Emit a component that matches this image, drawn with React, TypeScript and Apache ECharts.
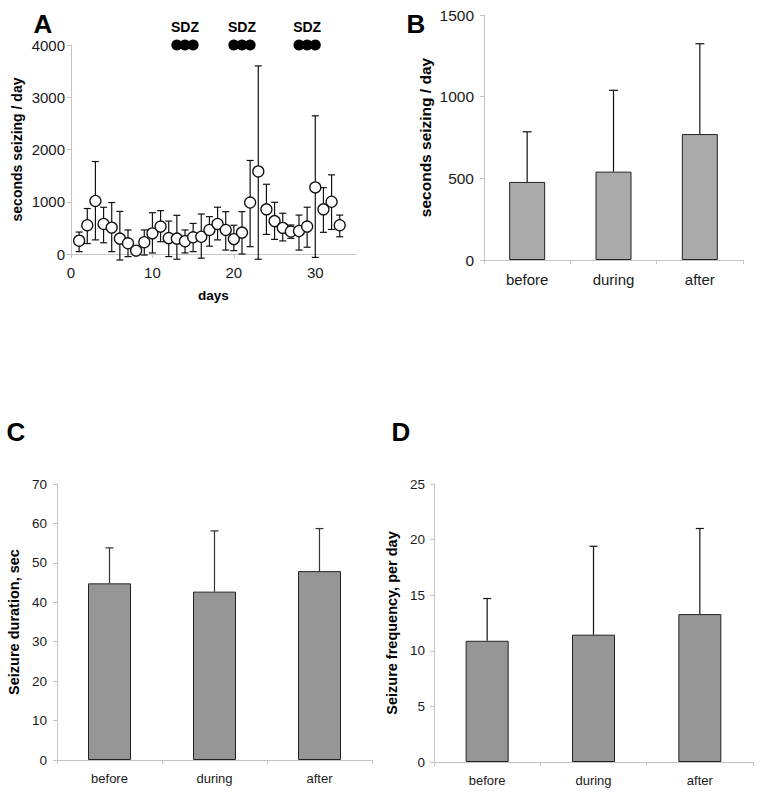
import React, { useEffect, useRef } from "react";
import * as echarts from "echarts";

// Panel A: daily seconds seizing (mean with error range)
const aDays = [1, 2, 3, 4, 5, 6, 7, 8, 9, 10, 11, 12, 13, 14, 15, 16, 17, 18, 19, 20, 21, 22, 23, 24, 25, 26, 27, 28, 29, 30, 31, 32, 33];
const aMean = [255, 550, 1015, 575, 505, 295, 205, 65, 225, 395, 525, 305, 295, 245, 320, 330, 460, 575, 460, 285, 410, 985, 1580, 855, 630, 500, 430, 440, 525, 1275, 855, 1000, 550];
const aLow = [45, 200, 270, 215, 45, -115, -50, 10, -20, 20, 235, -50, -100, 20, 45, -80, 150, 270, 75, 65, 0, 140, -100, 375, 280, 250, 300, 75, 130, -65, 415, 470, 330];
const aHigh = [420, 870, 1770, 895, 985, 815, 460, 120, 460, 790, 830, 630, 740, 460, 585, 765, 715, 895, 810, 550, 810, 1790, 3600, 1335, 990, 780, 555, 745, 895, 2645, 1270, 1515, 745];
const sdzDays = [13, 14, 15, 20, 21, 22, 28, 29, 30];
const sdzLabelDays = [14, 21, 29];
const sdzLevel = 4000;

// Panels B-D
const phases = ["before", "during", "after"];
const bMean = [478, 541, 771];
const bUpper = [785, 1039, 1324];
const cMean = [44.8, 42.7, 47.9];
const cUpper = [53.8, 58.1, 58.7];
const dMean = [10.9, 11.45, 13.3];
const dUpper = [14.7, 19.4, 21.0];

const FONT = "Liberation Sans, Arial, Helvetica, sans-serif";
const AXIS_GRAY = "#c4c4c4";
const plain = (v: number) => String(v);

function errRender(capHalf: number, color: string, lw: number, lowerCap: boolean) {
  return (params: any, api: any) => {
    const x = api.value(0);
    const lo = api.value(1);
    const hi = api.value(2);
    const pLo = api.coord([x, lo]);
    const pHi = api.coord([x, hi]);
    const style = { stroke: color, lineWidth: lw, fill: "none" };
    const children: any[] = [
      { type: "line", shape: { x1: pLo[0], y1: pLo[1], x2: pHi[0], y2: pHi[1] }, style },
      { type: "line", shape: { x1: pHi[0] - capHalf, y1: pHi[1], x2: pHi[0] + capHalf, y2: pHi[1] }, style },
    ];
    if (lowerCap) {
      children.push({ type: "line", shape: { x1: pLo[0] - capHalf, y1: pLo[1], x2: pLo[0] + capHalf, y2: pLo[1] }, style });
    }
    return { type: "group", children };
  };
}

function catXAxis(gridIndex: number, fontSize: number) {
  return {
    type: "category",
    gridIndex,
    data: phases,
    boundaryGap: true,
    axisLine: { show: true, lineStyle: { color: AXIS_GRAY, width: 1 } },
    axisTick: { show: true, length: 4, lineStyle: { color: AXIS_GRAY } },
    axisLabel: { color: "#1a1a1a", fontSize, fontFamily: FONT, margin: 12 },
    splitLine: { show: false },
  };
}

function valYAxis(gridIndex: number, max: number, interval: number, name: string, nameSize: number, nameGap: number, labelSize: number, labelMargin: number) {
  return {
    type: "value",
    gridIndex,
    min: 0,
    max,
    interval,
    name,
    nameLocation: "middle",
    nameGap,
    nameTextStyle: { fontSize: nameSize, fontWeight: "bold", color: "#000", fontFamily: FONT },
    axisLine: { show: true, lineStyle: { color: AXIS_GRAY, width: 1 } },
    axisTick: { show: true, length: 4, lineStyle: { color: AXIS_GRAY } },
    axisLabel: { color: "#1a1a1a", fontSize: labelSize, fontFamily: FONT, margin: labelMargin, formatter: plain },
    splitLine: { show: false },
  };
}

export default function App() {
  const ref = useRef<HTMLDivElement>(null);
  useEffect(() => {
    if (!ref.current) return;
    const chart = echarts.init(ref.current, undefined, { renderer: "svg" });
    const letter = (t: string, x: number, y: number) => ({
      type: "text",
      x,
      y,
      style: { text: t, fontSize: 26, fontWeight: "bold", fontFamily: FONT, fill: "#000", textAlign: "center", textVerticalAlign: "middle" },
    });
    const option: any = {
      animation: false,
      backgroundColor: "#ffffff",
      textStyle: { fontFamily: FONT },
      grid: [
        { left: 71, top: 45, width: 285, height: 209 },
        { left: 484, top: 15, width: 259, height: 245 },
        { left: 57, top: 484, width: 315, height: 276 },
        { left: 434, top: 484, width: 319, height: 278 },
      ],
      xAxis: [
        {
          type: "value",
          gridIndex: 0,
          min: 0,
          max: 35,
          interval: 10,
          name: "days",
          nameLocation: "middle",
          nameGap: 34,
          nameTextStyle: { fontSize: 13.5, fontWeight: "bold", color: "#000", fontFamily: FONT },
          axisLine: { show: true, onZero: false, lineStyle: { color: AXIS_GRAY, width: 1 } },
          axisTick: { show: true, length: 4, lineStyle: { color: AXIS_GRAY } },
          axisLabel: { color: "#1a1a1a", fontSize: 15, fontFamily: FONT, margin: 11, showMaxLabel: false, formatter: plain },
          splitLine: { show: false },
        },
        catXAxis(1, 15),
        catXAxis(2, 13),
        catXAxis(3, 13),
      ],
      yAxis: [
        valYAxis(0, 4000, 1000, "seconds seizing / day", 14, 47, 15, 6),
        valYAxis(1, 1500, 500, "seconds seizing / day", 15.5, 51, 15.5, 10),
        valYAxis(2, 70, 10, "Seizure duration, sec", 14.5, 36, 13.5, 10),
        valYAxis(3, 25, 5, "Seizure frequency, per day", 14.5, 35, 13.5, 9),
      ],
      graphic: [letter("A", 43, 24), letter("B", 416, 24), letter("C", 16, 432), letter("D", 401, 432)],
      series: [
        {
          type: "custom",
          name: "A error",
          xAxisIndex: 0,
          yAxisIndex: 0,
          z: 1,
          clip: false,
          renderItem: errRender(3.5, "#111", 1.2, true),
          encode: { x: 0, y: [1, 2] },
          data: aDays.map((d, i) => [d, aLow[i], aHigh[i]]),
        },
        {
          type: "scatter",
          name: "A mean",
          xAxisIndex: 0,
          yAxisIndex: 0,
          z: 3,
          clip: false,
          symbol: "circle",
          symbolSize: 11,
          itemStyle: { color: "#ffffff", borderColor: "#111", borderWidth: 1.3, opacity: 1 },
          data: aDays.map((d, i) => [d, aMean[i]]),
        },
        {
          type: "scatter",
          name: "SDZ",
          xAxisIndex: 0,
          yAxisIndex: 0,
          z: 3,
          clip: false,
          symbol: "circle",
          symbolSize: 11,
          itemStyle: { color: "#000", opacity: 1 },
          data: sdzDays.map((d) => ({
            value: [d, sdzLevel],
            label: sdzLabelDays.includes(d)
              ? { show: true, formatter: "SDZ", position: "top", distance: 6, fontSize: 14, fontWeight: "bold", color: "#000", fontFamily: FONT }
              : { show: false },
          })),
        },
        {
          type: "bar",
          name: "B",
          xAxisIndex: 1,
          yAxisIndex: 1,
          barWidth: 36,
          z: 2,
          itemStyle: { color: "#aaaaaa", borderColor: "#222", borderWidth: 1 },
          data: bMean,
        },
        {
          type: "custom",
          name: "B error",
          xAxisIndex: 1,
          yAxisIndex: 1,
          z: 1,
          clip: false,
          renderItem: errRender(4.5, "#111", 1.2, false),
          encode: { x: 0, y: [1, 2] },
          data: phases.map((_, i) => [i, bMean[i], bUpper[i]]),
        },
        {
          type: "bar",
          name: "C",
          xAxisIndex: 2,
          yAxisIndex: 2,
          barWidth: 43,
          z: 2,
          itemStyle: { color: "#969696", borderColor: "#222", borderWidth: 1 },
          data: cMean,
        },
        {
          type: "custom",
          name: "C error",
          xAxisIndex: 2,
          yAxisIndex: 2,
          z: 1,
          clip: false,
          renderItem: errRender(4, "#333", 1.2, false),
          encode: { x: 0, y: [1, 2] },
          data: phases.map((_, i) => [i, cMean[i], cUpper[i]]),
        },
        {
          type: "bar",
          name: "D",
          xAxisIndex: 3,
          yAxisIndex: 3,
          barWidth: 43,
          z: 2,
          itemStyle: { color: "#969696", borderColor: "#222", borderWidth: 1 },
          data: dMean,
        },
        {
          type: "custom",
          name: "D error",
          xAxisIndex: 3,
          yAxisIndex: 3,
          z: 1,
          clip: false,
          renderItem: errRender(4, "#111", 1.2, false),
          encode: { x: 0, y: [1, 2] },
          data: phases.map((_, i) => [i, dMean[i], dUpper[i]]),
        },
      ],
    };
    chart.setOption(option);
    return () => chart.dispose();
  }, []);
  return (
    <div
      ref={ref}
      style={{ position: "absolute", left: 0, top: 0, width: 762, height: 797, background: "#fff" }}
    />
  );
}
